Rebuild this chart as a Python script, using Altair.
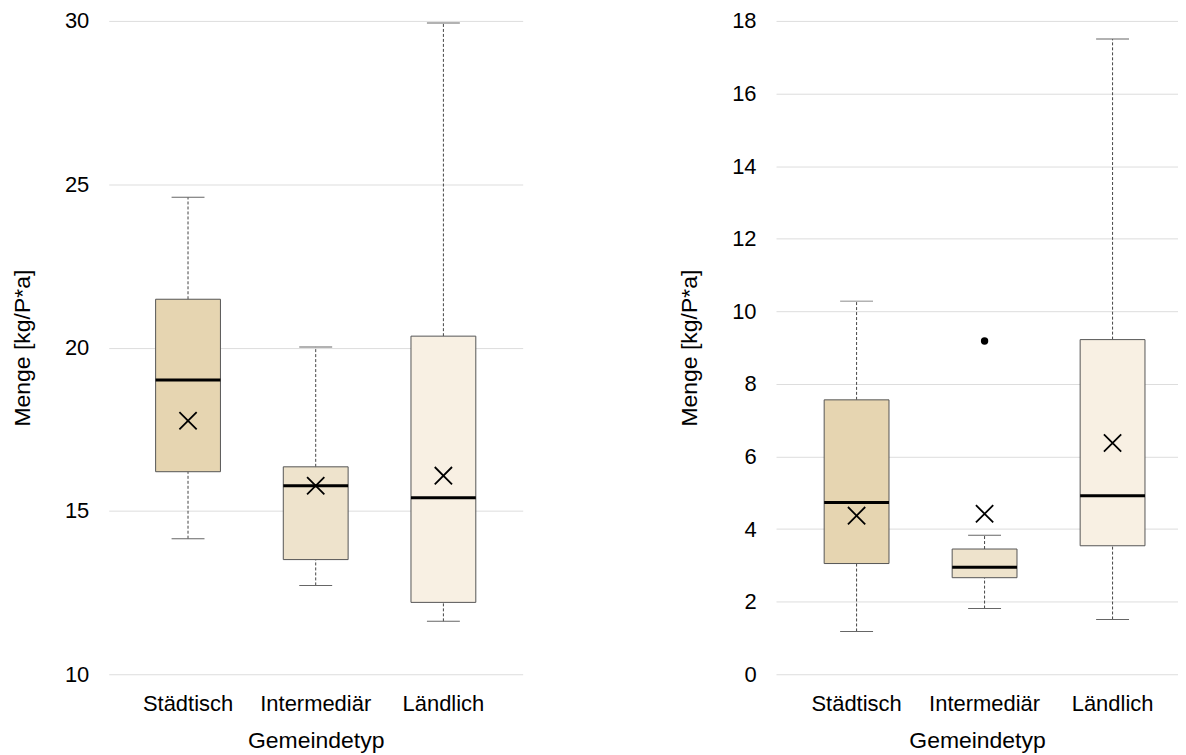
import altair as alt
import pandas as pd

categories = ["Städtisch", "Intermediär", "Ländlich"]
fills = ["#E6D5B1", "#EEE3CC", "#F8F0E3"]

# Left panel
l_min = [14.15, 12.72, 11.62]
l_q1 = [16.20, 13.51, 12.20]
l_med = [19.01, 15.77, 15.40]
l_q3 = [21.48, 16.35, 20.35]
l_max = [24.60, 20.02, 29.94]
l_mean = [17.76, 15.77, 16.08]
l_out_cat = []
l_out_val = []

# Right panel
r_min = [1.18, 1.81, 1.51]
r_q1 = [3.05, 2.66, 3.54]
r_med = [4.73, 2.95, 4.92]
r_q3 = [7.56, 3.45, 9.22]
r_max = [10.28, 3.83, 17.50]
r_mean = [4.37, 4.42, 6.37]
r_out_cat = ["Intermediär"]
r_out_val = [9.18]

FONT = "Liberation Sans"
X_PATH = "M-1,-1L1,1M-1,1L1,-1"


def panel(mins, q1, med, q3, maxs, mean, out_cat, out_val, domain, ticks, width, pad_outer, align):
    df = pd.DataFrame({"cat": categories, "min": mins, "q1": q1, "med": med,
                       "q3": q3, "max": maxs, "mean": mean, "fill": fills})
    x = alt.X("cat:N", sort=categories, title="Gemeindetyp",
              scale=alt.Scale(paddingInner=0, paddingOuter=pad_outer, align=align),
              axis=alt.Axis(labelAngle=0, domain=False, ticks=False, labelPadding=19,
                            titlePadding=15))
    yscale = alt.Scale(domain=domain, nice=False, zero=False)
    yaxis = alt.Axis(values=ticks, domain=False, ticks=False, grid=True, gridColor="#DDDDDD",
                     labelPadding=20, titlePadding=30)
    base = alt.Chart(df)
    lo = base.mark_rule(color="#444444", strokeWidth=1, strokeDash=[3, 2]).encode(
        x=x, y=alt.Y("min:Q", scale=yscale, axis=yaxis, title="Menge [kg/P*a]"), y2="q1:Q")
    hi = base.mark_rule(color="#444444", strokeWidth=1, strokeDash=[3, 2]).encode(
        x=x, y="q3:Q", y2="max:Q")
    box = base.mark_bar(size=65, stroke="#555555", strokeWidth=1, opacity=1).encode(
        x=x, y="q1:Q", y2="q3:Q", color=alt.Color("fill:N", scale=None))
    cap_lo = base.mark_tick(size=33, thickness=1, color="#666666", opacity=1).encode(
        x=x, y="min:Q")
    cap_hi = base.mark_tick(size=33, thickness=1, color="#666666", opacity=1).encode(
        x=x, y="max:Q")
    median = base.mark_tick(size=65, thickness=3, color="#000000", opacity=1).encode(
        x=x, y="med:Q")
    mean_m = base.mark_point(shape=X_PATH, size=300, filled=False, color="#000000",
                             strokeWidth=1.8, opacity=1).encode(x=x, y="mean:Q")
    layers = [lo, hi, box, cap_lo, cap_hi, median, mean_m]
    if out_cat:
        odf = pd.DataFrame({"cat": out_cat, "val": out_val})
        outl = alt.Chart(odf).mark_circle(size=55, color="#000000", opacity=1).encode(
            x=x, y="val:Q")
        layers.append(outl)
    return alt.layer(*layers).properties(width=width, height=655)


left = panel(l_min, l_q1, l_med, l_q3, l_max, l_mean, l_out_cat, l_out_val,
             [10, 30], [10, 15, 20, 25, 30], 415, 0.121, 0.5)
right = panel(r_min, r_q1, r_med, r_q3, r_max, r_mean, r_out_cat, r_out_val,
              [0, 18], list(range(0, 19, 2)), 403, 0.0703, 0.92)

chart = alt.hconcat(left, right, spacing=156).configure_view(stroke=None).configure_axis(
    labelFont=FONT, titleFont=FONT, labelFontSize=22, titleFontSize=23,
    labelColor="#000000", titleColor="#000000", titleFontWeight="normal"
).properties(padding={"left": 3, "right": 0, "top": 1, "bottom": 0})

chart.save("out.html", embed_options={"renderer": "svg", "actions": False})
